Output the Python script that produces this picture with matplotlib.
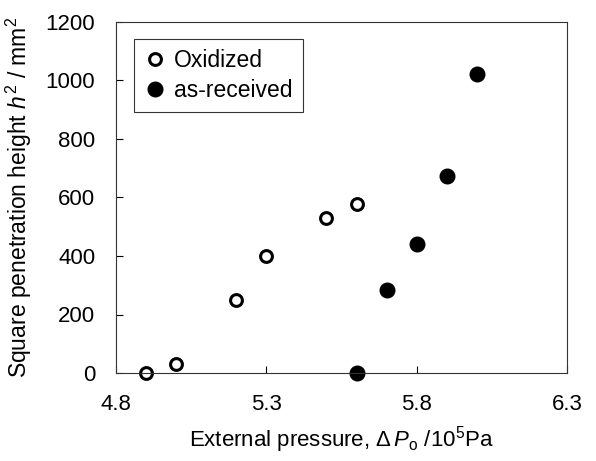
import matplotlib
matplotlib.use("Agg")
import matplotlib.pyplot as plt

plt.rcParams['font.family'] = ['Liberation Sans', 'DejaVu Sans']
plt.rcParams['mathtext.fontset'] = 'custom'
plt.rcParams['mathtext.it'] = 'Liberation Sans:italic'
plt.rcParams['mathtext.rm'] = 'Liberation Sans'

# oxidized samples
ox_p = [4.9, 5.0, 5.2, 5.3, 5.5, 5.6]
ox_h2 = [0, 30, 250, 400, 530, 578]

# as-received samples
ar_p = [5.6, 5.7, 5.8, 5.9, 6.0]
ar_h2 = [0, 285, 440, 675, 1022]

xticks = [4.8, 5.3, 5.8, 6.3]
yticks = [0, 200, 400, 600, 800, 1000, 1200]

fig = plt.figure(figsize=(5.96, 4.61), dpi=100)
ax = fig.add_axes([116/596, 1-373/461, (567-116)/596, (373-22)/461])

ax.plot(ox_p, ox_h2, 'o', ms=8.5, mfc='white', mec='black', mew=2.2,
        clip_on=False, label='Oxidized')
ax.plot(ar_p, ar_h2, 'o', ms=10.5, mfc='black', mec='black',
        clip_on=False, label='as-received')

ax.set_xlim(4.8, 6.3)
ax.set_ylim(0, 1200)
ax.set_xticks(xticks)
ax.set_xticklabels([f"{t:.1f}" for t in xticks])
ax.set_yticks(yticks)
ax.tick_params(direction='in', length=5, labelsize=16)
ax.tick_params(axis='y', pad=15)
ax.tick_params(axis='x', pad=15)
for s in ax.spines.values():
    s.set_linewidth(0.8)
    s.set_color('#333333')

ax.set_xlabel(r'External pressure, $\Delta\,P_{\rm o}$ /10$^5$Pa', fontsize=16, labelpad=7)
ax.set_ylabel(r'Square penetration height $h^2$ / mm$^2$', fontsize=16.5, labelpad=8)

leg = ax.legend(loc='upper left', bbox_to_anchor=(0.04, 0.952), fontsize=16.5,
                frameon=True, fancybox=False, edgecolor='black',
                handletextpad=0.4, handlelength=0.9, borderpad=0.45,
                labelspacing=0.3, borderaxespad=0)
leg.get_frame().set_linewidth(0.8)

fig.savefig("out.png", dpi=100)
